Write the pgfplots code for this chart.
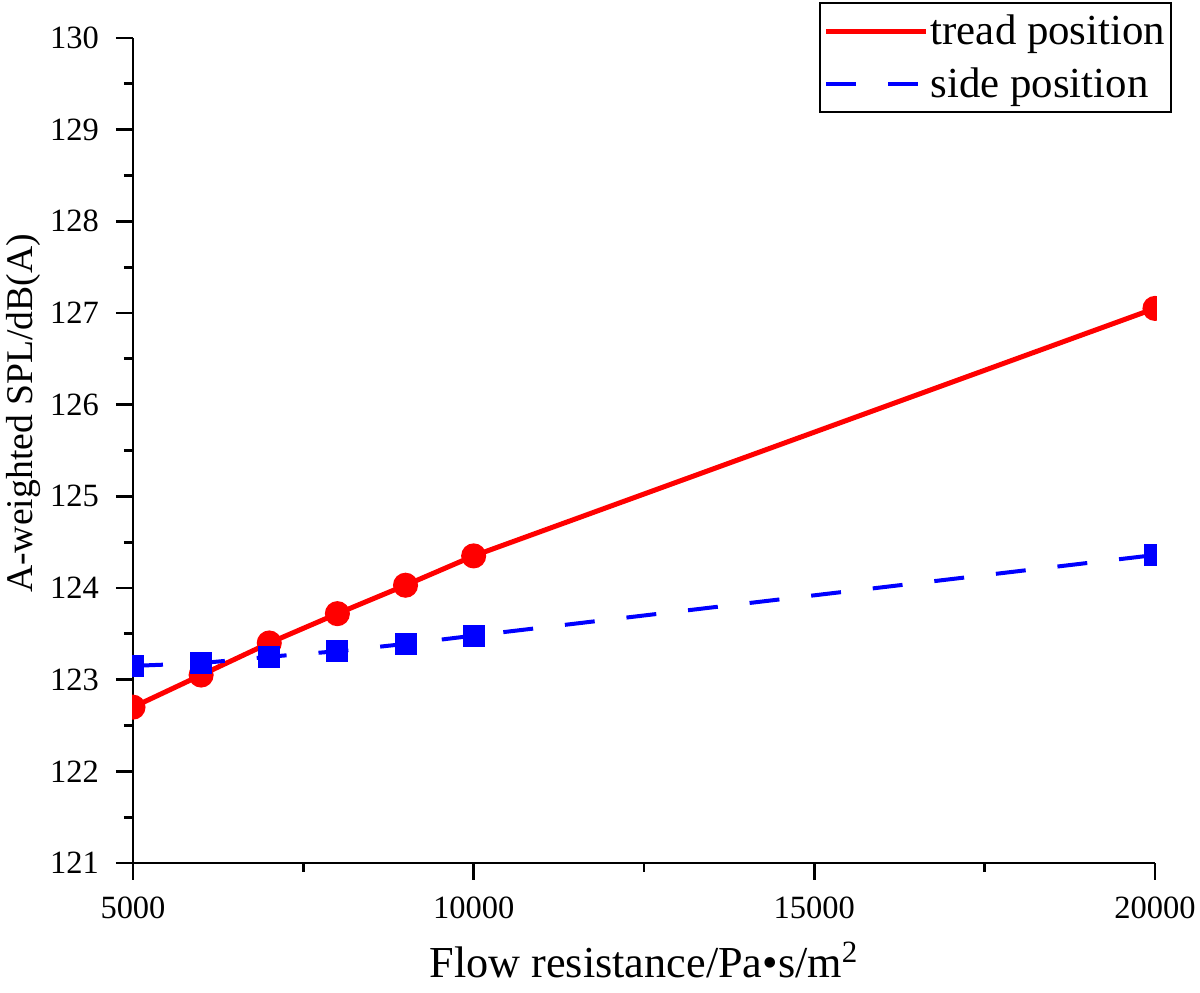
\documentclass[border=0pt]{standalone}
\usepackage{pgfplots}
\pgfplotsset{compat=1.18}
\usepackage{fontspec}
\setmainfont{Liberation Serif}
\definecolor{myred}{RGB}{255,0,0}
\definecolor{myblue}{RGB}{0,0,255}
\begin{document}
\begin{tikzpicture}
\begin{axis}[
  name=ax,
  at={(0,0)}, anchor=south west,
  scale only axis,
  width=511bp, height=412.5bp,
  xmin=5000, xmax=20000, ymin=121, ymax=130,
  axis lines*=left,
  axis line style={line width=1.4bp, black},
  xtick={5000,10000,15000,20000},
  ytick={121,122,...,130},
  minor x tick num=1, minor y tick num=1,
  tick align=outside,
  major tick length=8.5bp, minor tick length=4.5bp,
  tick style={line width=1.4bp, black},
  scaled x ticks=false,
  /pgf/number format/set thousands separator={},
  /pgf/number format/assume math mode=true,
  ticklabel style={font=\fontsize{16.3}{19}\selectfont},
  xticklabel style={yshift=-5bp},
  yticklabel style={xshift=-5bp},
  xlabel={Flow resistance/Pa•s/m\textsuperscript{2}},
  ylabel={A-weighted SPL/dB(A)},
  x label style={font=\fontsize{22.2}{26}\selectfont, at={(axis description cs:0.5,-0.1176)}, anchor=center},
  y label style={font=\fontsize{18.9}{23}\selectfont, at={(axis description cs:-0.107,0.545)}, anchor=center, rotate=0},
  legend style={at={(axis description cs:1.0166,1.0436)}, anchor=north east,
    draw=black, line width=0.8bp, fill=white,
    font=\fontsize{21.5}{25}\selectfont,
    inner xsep=2bp, inner ysep=5bp,
    row sep=8bp,
    nodes={inner sep=1bp}},
  legend cell align=left,
  /tikz/every even column/.append style={column sep=5bp},
  legend image code/.code={\draw[#1] (0bp,0bp) -- (50bp,0bp);},
]
\addplot[color=myred, line width=2.5bp, mark=*, mark size=5bp, mark options={solid}]
  coordinates {(5000,122.70) (6000,123.05) (7000,123.40) (8000,123.72) (9000,124.03) (10000,124.35) (20000,127.05)};
\addlegendentry{tread position}
\addplot[color=myblue, line width=2bp, dash pattern=on 15bp off 16bp, mark=square*, mark size=4.5bp, mark options={solid}]
  coordinates {(5000,123.15) (6000,123.18) (7000,123.25) (8000,123.31) (9000,123.39) (10000,123.48) (20000,124.36)};
\addlegendentry{side position}
\end{axis}
% white masks: markers are cut at the edge of the plot area, as in the reference
\fill[white] (ax.south west) ++(-9bp,92.6bp) rectangle ++(8.3bp,12.4bp);
\fill[white] (ax.south west) ++(-9bp,71.5bp) rectangle ++(8.3bp,13bp);
\fill[white] (ax.south east) ++(0.75bp,145bp) rectangle ++(10bp,145bp);
\path (ax.south west) ++(-66.5bp,-65bp) coordinate (bl);
\path (ax.north east) ++(22.5bp,19bp) coordinate (tr);
\pgfresetboundingbox
\path (bl) rectangle (tr);
\end{tikzpicture}
\end{document}
